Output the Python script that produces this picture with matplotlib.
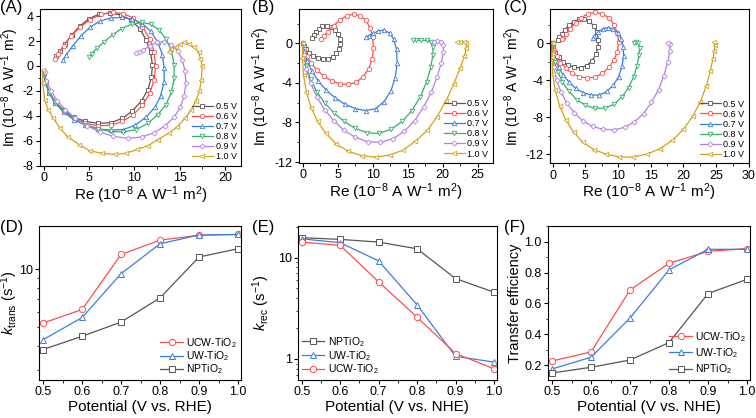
import matplotlib
matplotlib.use('Agg')
import matplotlib.pyplot as plt
from matplotlib.ticker import MultipleLocator, NullFormatter, LogLocator

plt.rcParams['font.family'] = ['Liberation Sans', 'DejaVu Sans']
plt.rcParams['mathtext.fontset'] = 'custom'
plt.rcParams['mathtext.rm'] = 'Liberation Sans'
plt.rcParams['mathtext.it'] = 'Liberation Sans:italic'
plt.rcParams['axes.unicode_minus'] = False

# ---- IMPS curves (Re, Im) in 1e-8 A W^-1 m^2 ----
A_05 = [(0, -0.5), (0.2, -1.3), (0.6, -2.1), (1.3, -2.9), (2.2, -3.55), (3.3, -4.1), (4.6, -4.45), (6.0, -4.6),
        (7.4, -4.55), (8.7, -4.2), (9.8, -3.6), (10.8, -2.8), (11.5, -1.9), (11.9, -0.9), (12.0, 0.1), (11.8, 1.1),
        (11.3, 2.1), (10.6, 3.0), (9.6, 3.7), (8.5, 4.1), (7.3, 4.25), (6.1, 4.15), (5.0, 3.8), (4.0, 3.2),
        (3.1, 2.5), (2.4, 1.8), (1.8, 1.2), (1.4, 0.8)]
A_06 = [(0, -0.5), (0.2, -1.3), (0.6, -2.1), (1.3, -2.9), (2.2, -3.6), (3.3, -4.2), (4.6, -4.6), (6.0, -4.8),
        (7.4, -4.75), (8.7, -4.45), (9.9, -3.9), (10.9, -3.15), (11.7, -2.2), (12.2, -1.1), (12.35, 0.0),
        (12.2, 1.1), (11.7, 2.2), (10.9, 3.15), (9.9, 3.85), (8.8, 4.2), (7.6, 4.3), (6.3, 4.15), (5.1, 3.7),
        (4.0, 3.1), (3.0, 2.4), (2.2, 1.6), (1.6, 0.95), (1.3, 0.6)]
A_07 = [(0, -0.6), (0.2, -1.4), (0.6, -2.2), (1.3, -3.0), (2.2, -3.7), (3.3, -4.3), (4.6, -4.75), (6.0, -5.05),
        (7.4, -5.15), (8.8, -5.1), (10.1, -4.75), (11.3, -4.1), (12.3, -3.3), (12.9, -2.4), (13.3, -1.3),
        (13.3, -0.2), (13.1, 0.9), (12.6, 1.9), (11.8, 2.8), (10.9, 3.4), (9.8, 3.75), (8.6, 3.9), (7.4, 3.85),
        (6.2, 3.6), (5.1, 3.1), (4.1, 2.4), (3.2, 1.6), (2.5, 0.9), (2.15, 0.5)]
A_08 = [(0, -0.5), (0.2, -1.3), (0.6, -2.1), (1.3, -2.9), (2.2, -3.6), (3.3, -4.2), (4.6, -4.7), (6.0, -5.05),
        (7.4, -5.25), (8.8, -5.3), (10.2, -5.1), (11.5, -4.6), (12.6, -3.9), (13.5, -3.1), (14.1, -2.1),
        (14.4, -1.0), (14.4, 0.1), (14.1, 1.2), (13.5, 2.2), (12.7, 2.9), (11.8, 3.35), (10.8, 3.5), (9.7, 3.35),
        (8.6, 3.0), (7.6, 2.5), (6.7, 1.95), (5.9, 1.45), (5.3, 1.0), (5.0, 0.75)]
A_09 = [(0.1, -0.5), (0.3, -1.2), (0.8, -2.0), (1.5, -2.8), (2.4, -3.5), (3.5, -4.2), (4.8, -4.8), (6.2, -5.3),
        (7.7, -5.65), (9.3, -5.8), (10.8, -5.7), (12.2, -5.35), (13.4, -4.8), (14.4, -4.1), (15.1, -3.3),
        (15.5, -2.4), (15.7, -1.4), (15.6, -0.4), (15.3, 0.5), (14.8, 1.2), (14.1, 1.7), (13.3, 1.95), (12.5, 1.9),
        (11.7, 1.6), (11.0, 1.3), (10.5, 1.1), (10.2, 1.05)]
A_10 = [(-0.1, -0.3), (-0.1, -1.4), (0.1, -2.7), (0.5, -3.5), (1.07, -4.2), (1.8, -5.0), (2.7, -5.7), (3.9, -6.3),
        (5.1, -6.8), (6.4, -7.0), (7.9, -7.1), (9.1, -7.0), (10.3, -6.7), (11.5, -6.4), (12.6, -5.9), (13.8, -5.4),
        (14.7, -4.9), (15.6, -4.2), (16.3, -3.5), (16.8, -2.8), (17.2, -2.0), (17.4, -1.1), (17.5, 0.0),
        (17.3, 0.6), (17.1, 1.1), (16.6, 1.5), (16.0, 1.8), (15.5, 1.9), (15.0, 1.75), (14.6, 1.55), (14.1, 1.35),
        (13.8, 1.15)]

B_05 = [(0, 0), (0.1, -0.3), (0.4, -0.6), (0.9, -0.95), (1.5, -1.25), (2.2, -1.45), (2.9, -1.55), (3.6, -1.55),
        (4.3, -1.35), (4.8, -1.0), (5.2, -0.55), (5.35, -0.05), (5.3, 0.45), (5.0, 0.95), (4.6, 1.35), (4.0, 1.65),
        (3.4, 1.8), (2.8, 1.75), (2.3, 1.5), (1.9, 1.15), (1.6, 0.8), (1.35, 0.5)]
B_06 = [(0, 0), (0.2, -0.6), (0.6, -1.3), (1.2, -2.0), (2.0, -2.7), (3.0, -3.3), (4.1, -3.8), (5.3, -4.1),
        (6.5, -4.15), (7.6, -3.95), (8.6, -3.4), (9.4, -2.6), (9.9, -1.6), (10.1, -0.5), (10.0, 0.6), (9.6, 1.6),
        (9.0, 2.35), (8.2, 2.8), (7.3, 2.95), (6.3, 2.8), (5.3, 2.35), (4.4, 1.8), (3.6, 1.2), (3.0, 0.75),
        (2.6, 0.45)]
B_07 = [(0, 0), (0.2, -0.8), (0.6, -1.8), (1.3, -2.8), (2.2, -3.8), (3.3, -4.7), (4.6, -5.5), (6.0, -6.15),
        (7.5, -6.6), (9.0, -6.8), (10.4, -6.6), (11.6, -5.9), (12.6, -4.8), (13.2, -3.5), (13.5, -2.0),
        (13.4, -0.6), (13.0, 0.4), (12.4, 1.05), (11.6, 1.35), (10.8, 1.25), (10.0, 1.0), (9.4, 0.75), (9.0, 0.6)]
B_08 = [(0, 0), (0.1, -1.0), (0.5, -2.3), (1.1, -3.6), (2.0, -4.9), (3.1, -6.0), (4.4, -7.0), (5.9, -7.9),
        (7.5, -8.6), (9.2, -9.05), (10.9, -9.1), (12.6, -8.7), (14.2, -7.9), (15.6, -6.8), (16.8, -5.4),
        (17.7, -3.9), (18.3, -2.4), (18.6, -1.2), (18.6, -0.4), (18.3, 0.1), (17.7, 0.3), (16.9, 0.3),
        (16.2, 0.3), (15.8, 0.3)]
B_09 = [(0, 0), (0.1, -1.2), (0.5, -2.6), (1.1, -4.0), (2.0, -5.4), (3.1, -6.7), (4.4, -7.8), (5.9, -8.8),
        (7.5, -9.5), (9.3, -9.95), (11.1, -10.0), (12.9, -9.65), (14.5, -8.9), (16.0, -7.8), (17.3, -6.4),
        (18.4, -4.9), (19.2, -3.4), (19.8, -2.0), (20.1, -0.9), (20.1, -0.2), (19.7, 0.1), (19.2, 0.2),
        (18.7, 0.15)]
B_10 = [(0, 0), (-0.05, -1.5), (0.1, -3.2), (0.5, -4.9), (1.2, -6.5), (2.1, -7.9), (3.3, -9.1), (4.8, -10.2),
        (6.5, -10.9), (8.4, -11.35), (10.4, -11.5), (12.4, -11.3), (14.3, -10.8), (16.1, -9.9), (17.8, -8.8),
        (19.2, -7.4), (20.5, -5.8), (21.6, -4.1), (22.5, -2.5), (23.1, -1.3), (23.4, -0.5), (23.3, 0.0),
        (23.0, 0.15), (22.5, 0.18), (22.1, 0.15)]

C_05 = [(0, 0), (0.1, -0.5), (0.4, -1.0), (0.9, -1.5), (1.6, -2.0), (2.4, -2.35), (3.3, -2.6), (4.3, -2.65),
        (5.2, -2.4), (6.0, -1.9), (6.6, -1.2), (6.95, -0.4), (7.0, 0.4), (6.8, 1.2), (6.3, 1.9), (5.6, 2.4),
        (4.8, 2.65), (4.0, 2.6), (3.2, 2.35), (2.5, 1.95), (1.9, 1.5), (1.4, 1.05), (1.0, 0.7), (0.75, 0.4)]
C_06 = [(0, 0), (0.2, -0.7), (0.6, -1.4), (1.2, -2.1), (2.0, -2.7), (3.0, -3.25), (4.1, -3.6), (5.3, -3.75),
        (6.5, -3.65), (7.6, -3.25), (8.6, -2.6), (9.4, -1.8), (9.9, -0.9), (10.1, 0.1), (9.9, 1.1), (9.4, 2.0),
        (8.6, 2.75), (7.6, 3.2), (6.5, 3.35), (5.4, 3.2), (4.4, 2.8), (3.5, 2.2), (2.7, 1.6), (2.1, 1.05),
        (1.6, 0.6), (1.4, 0.45)]
C_07 = [(0, 0), (0.1, -0.8), (0.4, -1.7), (0.9, -2.6), (1.6, -3.4), (2.5, -4.2), (3.5, -4.85), (4.7, -5.35),
        (5.9, -5.6), (7.1, -5.6), (8.3, -5.2), (9.3, -4.5), (10.1, -3.6), (10.6, -2.5), (10.85, -1.4),
        (10.8, -0.4), (10.5, 0.5), (10.0, 1.15), (9.3, 1.55), (8.5, 1.7), (7.7, 1.6), (7.0, 1.2), (6.4, 0.8),
        (6.1, 0.55)]
C_08 = [(0, 0), (0.05, -0.9), (0.3, -2.0), (0.8, -3.1), (1.5, -4.2), (2.5, -5.2), (3.7, -6.1), (5.0, -6.7),
        (6.5, -7.05), (8.0, -7.0), (9.4, -6.6), (10.6, -5.8), (11.6, -4.8), (12.4, -3.6), (12.9, -2.4),
        (13.2, -1.3), (13.3, -0.5), (13.1, 0.0), (12.8, 0.1), (12.4, 0.05)]
C_09 = [(0, 0), (0.0, -1.2), (0.2, -2.6), (0.6, -4.0), (1.3, -5.3), (2.2, -6.5), (3.3, -7.5), (4.6, -8.4),
        (6.1, -9.0), (7.7, -9.3), (9.4, -9.35), (11.0, -9.1), (12.5, -8.5), (13.9, -7.6), (15.1, -6.4),
        (16.2, -5.0), (17.0, -3.5), (17.6, -2.0), (17.9, -0.8), (17.9, -0.1), (17.7, 0.05)]
C_10 = [(0, 0), (-0.1, -1.5), (0.0, -3.3), (0.4, -5.1), (1.1, -6.8), (2.0, -8.3), (3.2, -9.6), (4.6, -10.7),
        (6.3, -11.5), (8.2, -12.0), (10.2, -12.3), (12.3, -12.3), (14.4, -12.0), (16.4, -11.4), (18.3, -10.5),
        (20.0, -9.3), (21.4, -7.9), (22.6, -6.3), (23.5, -4.6), (24.1, -3.0), (24.5, -1.7), (24.7, -0.8),
        (24.8, -0.2), (24.7, 0.1)]

volt_labels = ['0.5 V', '0.6 V', '0.7 V', '0.8 V', '0.9 V', '1.0 V']

# ---- rate constants / efficiency vs potential ----
potential = [0.5, 0.6, 0.7, 0.8, 0.9, 1.0]
ktrans_ucw = [5.25, 6.18, 11.96, 14.2, 15.06, 15.2]
ktrans_uw = [4.3, 5.61, 9.5, 13.6, 15.1, 15.2]
ktrans_np = [3.82, 4.48, 5.31, 7.1, 11.6, 12.8]
krec_np = [15.7, 15.1, 14.2, 12.2, 6.2, 4.55]
krec_uw = [15.3, 14.0, 9.27, 3.41, 1.06, 0.93]
krec_ucw = [14.2, 13.2, 5.75, 2.58, 1.13, 0.80]
eff_ucw = [0.228, 0.286, 0.687, 0.86, 0.937, 0.955]
eff_uw = [0.176, 0.252, 0.506, 0.817, 0.95, 0.95]
eff_np = [0.15, 0.187, 0.234, 0.347, 0.664, 0.756]

c_gray = '#555555'
c_red = '#ff4d4d'
c_blue = '#3a7de0'
c_green = '#35b06c'
c_purple = '#b57fe6'
c_gold = '#d6a11c'
curve_colors = [c_gray, c_red, c_blue, c_green, c_purple, c_gold]
curve_markers = ['s', 'o', '^', 'v', 'D', '<']

fig = plt.figure(figsize=(7.56, 4.18), dpi=100)


def style_axis(ax):
    ax.tick_params(direction='out', labelsize=9, length=3, width=0.8, pad=1.5)
    ax.tick_params(which='minor', direction='out', length=1.8, width=0.6)
    for sp in ax.spines.values():
        sp.set_linewidth(0.8)


def imps_panel(rect, curves, xlim, ylim, xmaj, ymaj, ylab_x):
    ax = fig.add_axes(rect)
    for pts, col, mk, lab in zip(curves, curve_colors, curve_markers, volt_labels):
        re = [p[0] for p in pts]
        im = [p[1] for p in pts]
        ms = 2.6 if mk == 'D' else 3.2
        ax.plot(re, im, color=col, lw=0.9, marker=mk, ms=ms, mfc='white', mec=col, mew=0.6, label=lab)
    ax.set_xlim(*xlim)
    ax.set_ylim(*ylim)
    ax.xaxis.set_major_locator(MultipleLocator(xmaj))
    ax.xaxis.set_minor_locator(MultipleLocator(xmaj / 2))
    ax.yaxis.set_major_locator(MultipleLocator(ymaj))
    ax.yaxis.set_minor_locator(MultipleLocator(ymaj / 2))
    style_axis(ax)
    ax.set_xlabel('Re (10$^{-8}$ A W$^{-1}$ m$^{2}$)', fontsize=11, labelpad=0)
    ax.set_ylabel('Im (10$^{-8}$ A W$^{-1}$ m$^{2}$)', fontsize=10, labelpad=0)
    ax.yaxis.set_label_coords(ylab_x, 0.5)
    ax.legend(loc='lower right', fontsize=6.5, frameon=False, handlelength=2.3, handletextpad=0.3,
              labelspacing=0.12, borderaxespad=0.3, borderpad=0.2)
    return ax


imps_panel([0.053, 0.603, 0.266, 0.376], [A_05, A_06, A_07, A_08, A_09, A_10],
           (-0.4, 21.8), (-8.02, 4.59), 5, 2, -0.097)
imps_panel([0.3955, 0.610, 0.2566, 0.369], [B_05, B_06, B_07, B_08, B_09, B_10],
           (-0.55, 27.2), (-12.1, 3.5), 5, 4, -0.139)
imps_panel([0.727, 0.609, 0.2636, 0.369], [C_05, C_06, C_07, C_08, C_09, C_10],
           (-0.46, 30.0), (-13.0, 3.7), 5, 4, -0.129)

fig.text(0.0, 0.983, '(A)', fontsize=12, va='center', ha='left')
fig.text(0.333, 0.983, '(B)', fontsize=12, va='center', ha='left')
fig.text(0.667, 0.983, '(C)', fontsize=12, va='center', ha='left')
fig.text(0.0, 0.455, '(D)', fontsize=12, va='center', ha='left')
fig.text(0.333, 0.455, '(E)', fontsize=12, va='center', ha='left')
fig.text(0.667, 0.455, '(F)', fontsize=12, va='center', ha='left')


def rate_panel(rect, series, ylabel, xlabel, legend_loc, spacing, ylab_x):
    ax = fig.add_axes(rect)
    for y, col, mk, lab in series:
        ax.plot(potential, y, color=col, lw=0.9, marker=mk, ms=4.5, mfc='white', mec=col, mew=0.7, label=lab)
    ax.set_xlim(0.49, 1.007)
    ax.xaxis.set_major_locator(MultipleLocator(0.1))
    ax.xaxis.set_minor_locator(MultipleLocator(0.05))
    style_axis(ax)
    ax.set_xlabel(xlabel, fontsize=11, labelpad=1)
    ax.set_ylabel(ylabel, fontsize=10.5, labelpad=1)
    ax.yaxis.set_label_coords(ylab_x, 0.5)
    ax.legend(loc=legend_loc, fontsize=7.5, frameon=False, handlelength=2.2, handletextpad=0.3,
              labelspacing=spacing, borderaxespad=0.15, borderpad=0.2)
    return ax


axD = rate_panel([0.052, 0.091, 0.2664, 0.368],
                 [(ktrans_ucw, c_red, 'o', 'UCW-TiO$_2$'), (ktrans_uw, c_blue, '^', 'UW-TiO$_2$'),
                  (ktrans_np, c_gray, 's', 'NPTiO$_2$')],
                 '$\\mathit{k}_{\\rm trans}$ (s$^{-1}$)', 'Potential (V vs. RHE)', 'lower right', -0.05, -0.094)
axD.set_yscale('log')
axD.set_ylim(2.65, 16.8)
axD.yaxis.set_minor_locator(LogLocator(base=10, subs=range(2, 10)))
axD.yaxis.set_minor_formatter(NullFormatter())
axD.set_yticks([10])
axD.set_yticklabels(['10'])
axD.tick_params(which='minor', direction='out', length=1.8, width=0.6)

axE = rate_panel([0.394, 0.091, 0.263, 0.368],
                 [(krec_np, c_gray, 's', 'NPTiO$_2$'), (krec_uw, c_blue, '^', 'UW-TiO$_2$'),
                  (krec_ucw, c_red, 'o', 'UCW-TiO$_2$')],
                 '$\\mathit{k}_{\\rm rec}$ (s$^{-1}$)', 'Potential (V vs. NHE)', 'lower left', 0.0, -0.13)
axE.set_yscale('log')
axE.set_ylim(0.62, 20.4)
axE.yaxis.set_minor_locator(LogLocator(base=10, subs=range(2, 10)))
axE.yaxis.set_minor_formatter(NullFormatter())
axE.set_yticks([1, 10])
axE.set_yticklabels(['1', '10'])
axE.tick_params(which='minor', direction='out', length=1.8, width=0.6)

axF = rate_panel([0.725, 0.091, 0.2668, 0.368],
                 [(eff_ucw, c_red, 'o', 'UCW-TiO$_2$'), (eff_uw, c_blue, '^', 'UW-TiO$_2$'),
                  (eff_np, c_gray, 's', 'NPTiO$_2$')],
                 'Transfer efficiency', 'Potential (V vs. NHE)', 'lower right', 0.25, -0.129)
axF.set_ylim(0.105, 1.10)
axF.yaxis.set_major_locator(MultipleLocator(0.2))
axF.yaxis.set_minor_locator(MultipleLocator(0.1))

fig.savefig('out.png', dpi=100)
